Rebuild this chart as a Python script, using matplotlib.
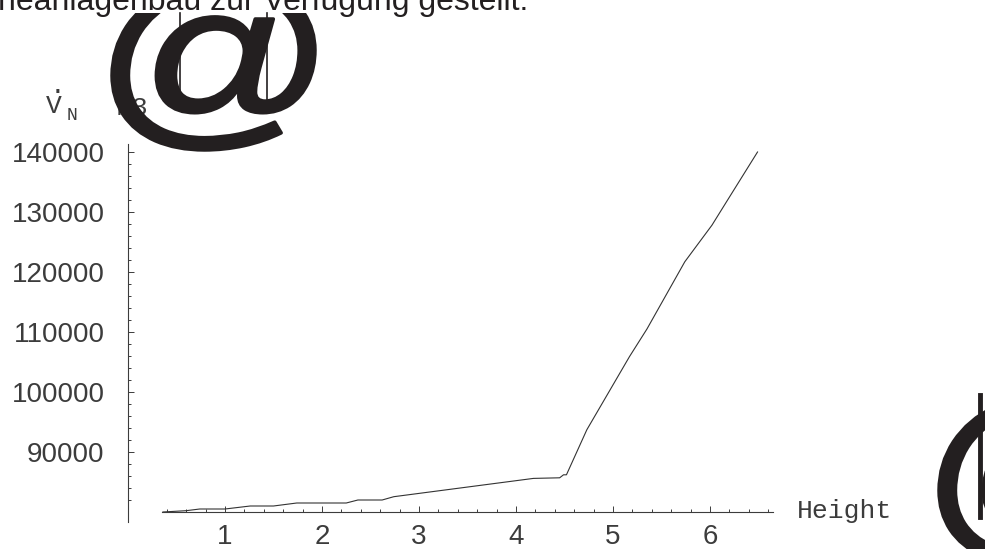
import matplotlib
matplotlib.use('Agg')
import matplotlib.pyplot as plt
from matplotlib.lines import Line2D
from matplotlib.patches import Rectangle, PathPatch
from matplotlib.textpath import TextPath
from matplotlib.font_manager import FontProperties
from matplotlib.transforms import Affine2D
from matplotlib.ticker import FixedLocator

# Normvolumenstrom ueber der Hoehe
height = [0.36, 0.60, 0.74, 1.00, 1.26, 1.50, 1.74, 2.25, 2.37, 2.62, 2.74,
          4.18, 4.45, 4.49, 4.52, 4.73, 5.17, 5.35, 5.74, 6.02, 6.17, 6.49]
flow = [80000, 80220, 80500, 80500, 81000, 81000, 81500, 81500, 82000, 82000, 82550,
        85600, 85700, 86200, 86200, 93700, 105900, 110500, 121700, 127800, 131700, 140000]

y_ticks = [90000, 100000, 110000, 120000, 130000, 140000]
x_ticks = [1, 2, 3, 4, 5, 6]
y_minor = list(range(82000, 142000, 2000))
x_minor = [round(0.4 + 0.2 * i, 1) for i in range(32)]

W, H = 985, 549
fig = plt.figure(figsize=(W / 100, H / 100), dpi=100)
ax = fig.add_axes([0, 0, 1, 1])
ax.set_facecolor('white')

# Pixel -> Daten: x = (px - 128) / 97, y = 140000 - (py - 152) / 0.006
ax.set_xlim((0 - 128) / 97, (W - 128) / 97)
ax.set_ylim(140000 - (H - 152) / 0.006, 140000 + 152 / 0.006)

gray = '#3c3c3c'
ax.plot(height, flow, color='#333333', lw=0.8)

for s in ['top', 'right']:
    ax.spines[s].set_visible(False)
ax.spines['left'].set_position(('data', 0))
ax.spines['left'].set_bounds(78300, 141300)
ax.spines['bottom'].set_position(('data', 80000))
ax.spines['bottom'].set_bounds(0.35, 6.65)
for s in ['left', 'bottom']:
    ax.spines[s].set_color(gray)
    ax.spines[s].set_linewidth(0.8)

ax.xaxis.set_major_locator(FixedLocator(x_ticks))
ax.xaxis.set_minor_locator(FixedLocator(x_minor))
ax.yaxis.set_major_locator(FixedLocator(y_ticks))
ax.yaxis.set_minor_locator(FixedLocator(y_minor))
ax.tick_params(which='both', direction='in', color=gray, width=0.7, labelcolor=gray,
               labelsize=20)
ax.tick_params(which='major', length=4)
ax.tick_params(which='minor', length=2.5)
ax.tick_params(axis='y', which='major', pad=17)
ax.tick_params(axis='x', which='major', pad=9)
for lab in ax.get_xticklabels() + ax.get_yticklabels():
    lab.set_fontfamily('Liberation Sans')

mono = 'Liberation Mono'
ft = fig.transFigure
ax.text(797 / W, 1 - 511 / H, 'Height', transform=ft, family=mono,
        fontsize=19, color=gray, ha='left', va='center')
ax.text(943 / W, 1 - 518 / H, 'm', transform=ft, family=mono,
        fontsize=19, color=gray, ha='left', va='baseline')
ax.text(46 / W, 1 - 113 / H, 'V', transform=ft, family=mono,
        fontsize=19, color=gray, ha='left', va='baseline')
ax.text(50 / W, 1 - 93 / H, '.', transform=ft, family=mono,
        fontsize=19, color=gray, ha='left', va='baseline')
ax.text(67 / W, 1 - 120 / H, 'N', transform=ft, family=mono,
        fontsize=13, color=gray, ha='left', va='baseline')
ax.text(117 / W, 1 - 115 / H, 'm3', transform=ft, family=mono,
        fontsize=19, color=gray, ha='left', va='baseline')

# duenne Striche hinter den Zeichen
for px, y0, y1, lw in [(180, 13, 100, 1.2), (267, 13, 100, 1.2), (980, 395, 517, 3.5)]:
    fig.add_artist(Line2D([px / W, px / W], [1 - y0 / H, 1 - y1 / H],
                          color='#231f20', lw=lw))


def at_sign(left, top, width, height, clip_top=None):
    # @ als Pfad, auf die Box (Pixel, y nach unten) gestreckt, Kontur verdickt
    tp = TextPath((0, 0), '@', size=100, prop=FontProperties(family='Liberation Sans'))
    ext = tp.get_extents()
    tr = (Affine2D().translate(-ext.x0, -ext.y0)
          .scale(width / ext.width, height / ext.height)
          .translate(left, H - top - height))
    p = PathPatch(tp, transform=tr, facecolor='#231f20', edgecolor='#231f20',
                  linewidth=2.5, joinstyle='round')
    fig.add_artist(p)
    if clip_top is not None:
        p.set_clip_path(Rectangle((0, 0), W, H - clip_top, transform=Affine2D()))


at_sign(112, -20, 203, 170, clip_top=13)
at_sign(939, 395, 203, 170)

fig.text(-2 / W, 1 - 10 / H, 'neanlagenbau zur Verfügung gestellt.',
         family='Liberation Sans', fontsize=23, color='#231f20', ha='left', va='baseline')

fig.savefig('out.png', dpi=100)
